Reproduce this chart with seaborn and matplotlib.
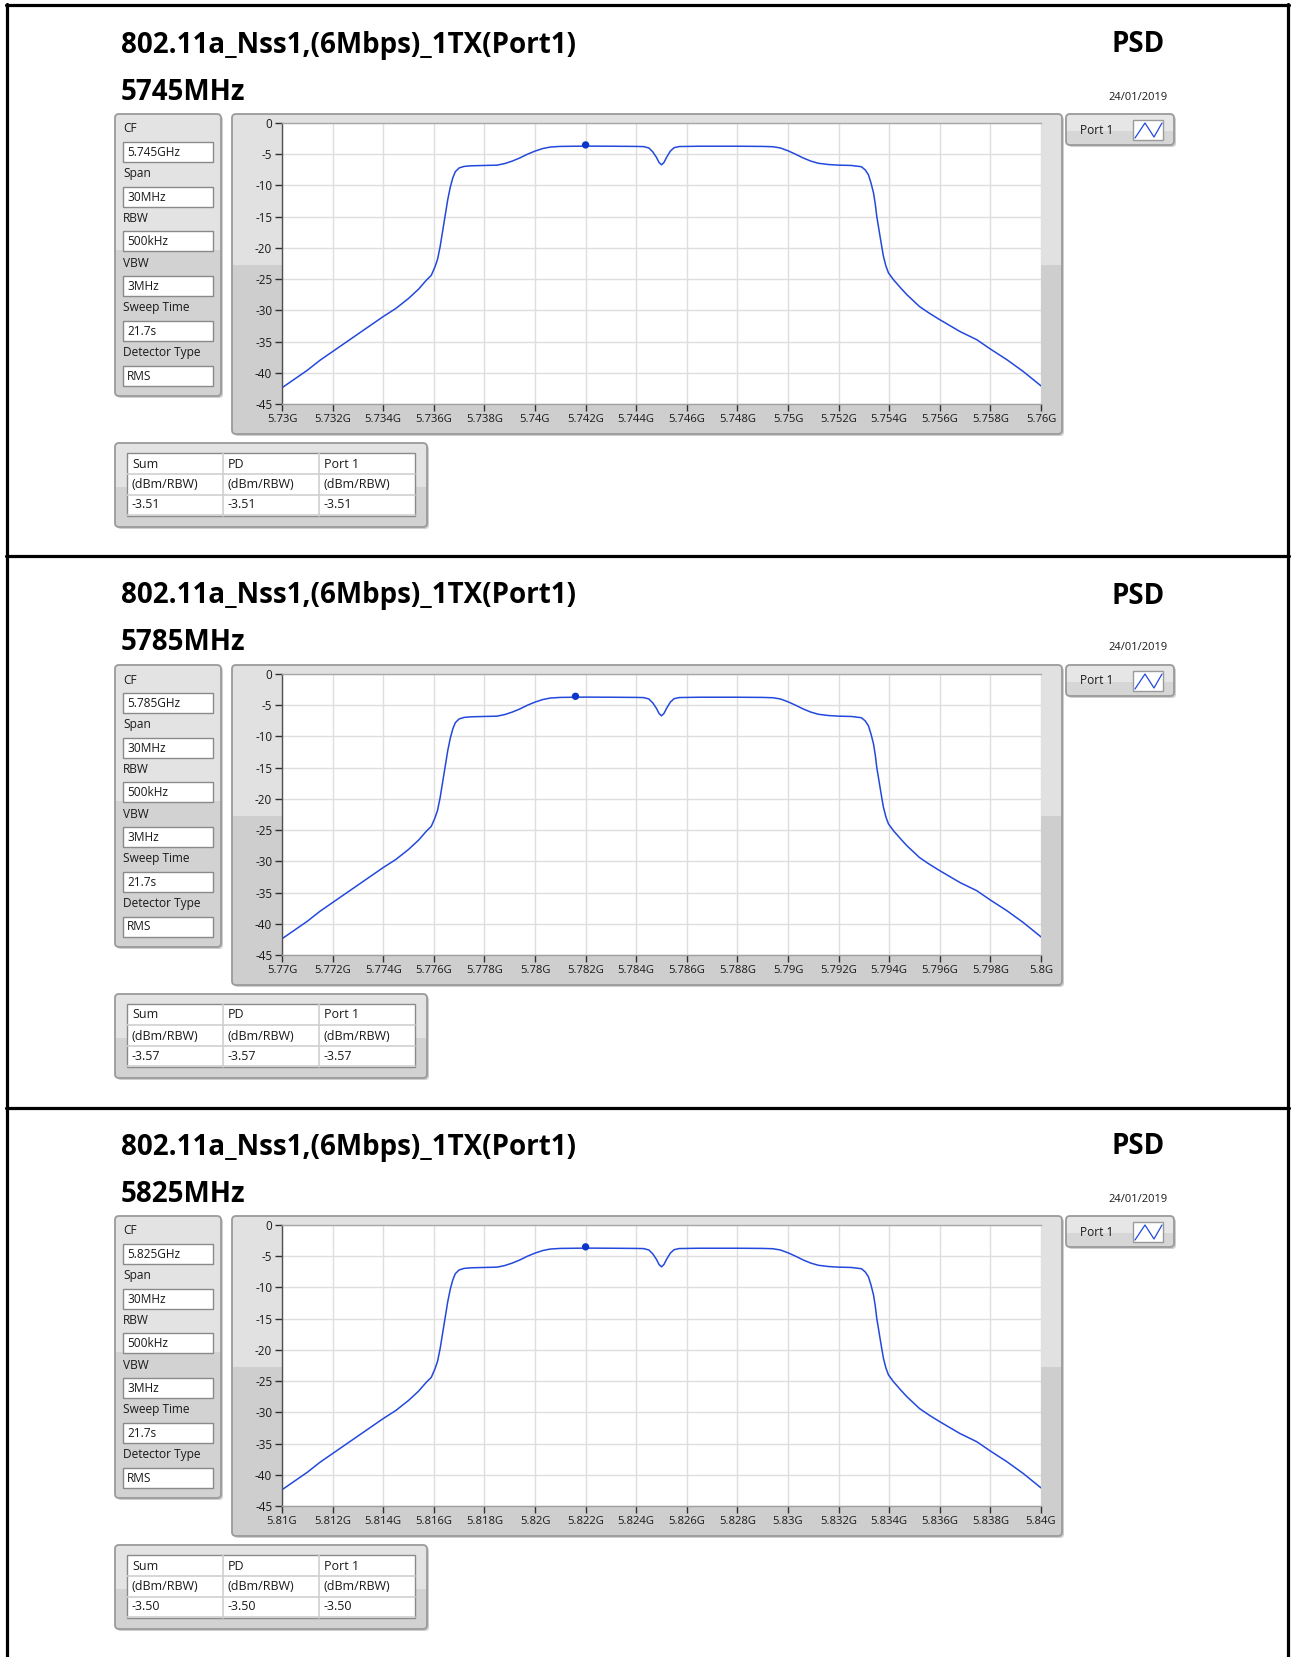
import matplotlib
matplotlib.use('Agg')
import matplotlib.pyplot as plt
from matplotlib.patches import FancyBboxPatch, Rectangle
import seaborn as sns

sns.set_theme(style='white')
plt.rcParams['font.family'] = ['Open Sans', 'DejaVu Sans']
plt.rcParams['axes.unicode_minus'] = False

W, H = 1292, 1657

# --- data ---
test_name = '802.11a_Nss1,(6Mbps)_1TX(Port1)'
test_date = '24/01/2019'
centre_mhz = [5745, 5785, 5825]
cf_text = ['5.745GHz', '5.785GHz', '5.825GHz']
param_names = ['CF', 'Span', 'RBW', 'VBW', 'Sweep Time', 'Detector Type']
span_text = '30MHz'
rbw_text = '500kHz'
vbw_text = '3MHz'
sweep_text = '21.7s'
detector_text = 'RMS'
peak_mhz = [5742.0, 5781.6, 5822.0]
peak_db = [-3.51, -3.57, -3.50]
table_head = ['Sum', 'PD', 'Port 1']
table_unit = '(dBm/RBW)'
table_value = ['-3.51', '-3.57', '-3.50']

# spectrum shape, offset from CF (MHz) vs level (dBm/RBW)
offset_mhz = [-15.0, -14.5, -14.0, -13.5, -13.0, -12.5, -12.0, -11.5, -11.0, -10.5,
              -10.0, -9.6, -9.3, -9.1, -8.95, -8.85, -8.75, -8.65, -8.55, -8.45,
              -8.35, -8.25, -8.15, -8.0, -7.8, -7.5, -7.0, -6.5, -6.2, -5.9,
              -5.6, -5.3, -5.0, -4.7, -4.4, -4.0, -3.0, -2.0, -1.0, -0.7,
              -0.5, -0.35, -0.2, -0.1, 0.0, 0.1, 0.2, 0.35, 0.5, 0.7,
              1.5, 3.0, 4.0,
              4.4, 4.7, 5.0, 5.3, 5.6, 5.9, 6.2, 6.6, 7.0, 7.5,
              7.9, 8.05, 8.18, 8.28, 8.38, 8.45, 8.51, 8.58, 8.64, 8.71,
              8.77, 8.87, 8.97, 9.17, 9.45, 9.7, 10.2, 10.6, 11.0, 11.8,
              12.46, 13.0, 13.65, 14.3, 15.0]
level_db = [-42.4, -41.0, -39.6, -38.0, -36.6, -35.2, -33.8, -32.4, -31.0, -29.7,
            -28.1, -26.6, -25.2, -24.4, -23.0, -21.8, -19.8, -17.3, -14.8, -12.3,
            -10.3, -8.8, -7.8, -7.2, -6.95, -6.85, -6.8, -6.75, -6.5, -6.1,
            -5.6, -5.0, -4.5, -4.1, -3.85, -3.75, -3.7, -3.72, -3.75, -3.78,
            -4.0, -4.6, -5.5, -6.3, -6.7, -6.3, -5.5, -4.5, -3.95, -3.77,
            -3.72, -3.72, -3.75,
            -3.8, -4.0, -4.45, -5.0, -5.6, -6.1, -6.45, -6.65, -6.75, -6.8,
            -7.0, -7.5, -8.3, -9.6, -11.2, -13.0, -15.0, -16.7, -18.2, -19.9,
            -21.3, -22.9, -24.0, -25.1, -26.4, -27.5, -29.4, -30.5, -31.5, -33.4,
            -34.7, -36.2, -37.9, -39.8, -42.1]

line_col = '#2349dc'
frame_edge = '#9a9a9a'
PITCH = 551

fig = plt.figure(figsize=(W / 100, H / 100), dpi=100)
fig.patch.set_facecolor('white')
bg = fig.add_axes([0, 0, 1, 1])
bg.set_xlim(0, W)
bg.set_ylim(H, 0)
bg.axis('off')


def rbox(x0, y0, x1, y1, **kw):
    return FancyBboxPatch((x0, y0), x1 - x0, y1 - y0,
                          boxstyle='round,pad=0,rounding_size=4', **kw)


def frame(x0, y0, x1, y1, split, top='#e3e3e3', low='#d2d2d2'):
    bg.add_patch(rbox(x0 + 2, y0 + 2, x1 + 2, y1 + 2, fc='#cfcfcf', ec='none', zorder=1))
    box = rbox(x0, y0, x1, y1, fc=top, ec='none', zorder=2)
    bg.add_patch(box)
    lower = Rectangle((x0, split), x1 - x0, y1 - split, fc=low, ec='none', zorder=2.1)
    bg.add_patch(lower)
    lower.set_clip_path(box)
    bg.add_patch(rbox(x0, y0, x1, y1, fc='none', ec=frame_edge, lw=1.3, zorder=2.2))


def small(x, y, s, size=8.6):
    bg.text(x, y, s, fontsize=size, color='#1a1a1a', va='center', zorder=5)


# page borders
bg.plot([7, 7], [4, H], color='black', lw=2.3, zorder=6)
bg.plot([1288, 1288], [4, H], color='black', lw=2.3, zorder=6)
for yb in [5, 556, 1108]:
    bg.plot([6, 1289], [yb, yb], color='black', lw=2.3, zorder=6)

for i, cf in enumerate(centre_mhz):
    dy = PITCH * i

    # headings
    bg.text(121, 45 + dy, test_name, fontsize=20, fontweight='bold', va='center', color='black')
    bg.text(121, 92 + dy, f'{cf}MHz', fontsize=20, fontweight='bold', va='center', color='black')
    bg.text(1165, 45 + dy, 'PSD', fontsize=20, fontweight='bold', va='center', ha='right', color='black')
    bg.text(1138, 97 + dy, test_date, fontsize=8, va='center', ha='center', color='#1a1a1a')

    # settings panel
    frame(115, 114 + dy, 221, 396 + dy, 250 + dy)
    values = [cf_text[i], span_text, rbw_text, vbw_text, sweep_text, detector_text]
    for k, (name, val) in enumerate(zip(param_names, values)):
        yl = 129 + 44.7 * k + dy
        small(123, yl, name)
        yt = yl + 13
        bg.add_patch(Rectangle((123, yt), 90, 20, fc='white', ec='#8a8a8a', lw=1, zorder=3))
        small(127, yt + 10.5, val)

    # graph frame
    frame(232, 114 + dy, 1062, 434 + dy, 265 + dy, top='#e1e1e1', low='#cecece')

    # legend
    frame(1066, 114 + dy, 1174, 145 + dy, 131 + dy, top='#e6e6e6', low='#d6d6d6')
    small(1080, 130 + dy, 'Port 1')
    bg.add_patch(Rectangle((1133, 120 + dy), 30, 20, fc='white', ec='#9a9a9a', lw=1, zorder=3))
    bg.plot([1135, 1145, 1154, 1162], [138 + dy, 123 + dy, 137 + dy, 123 + dy],
            color=line_col, lw=0.9, zorder=4)

    # results table
    frame(115, 443 + dy, 427, 527 + dy, 487 + dy)
    bg.add_patch(Rectangle((127, 453 + dy), 288, 63, fc='white', ec='#8a8a8a', lw=1, zorder=3))
    for yr in [474, 495, 515]:
        bg.plot([127, 415], [yr + dy, yr + dy], color='#cfcfcf', lw=1.2, zorder=4)
    for xc in [223, 319]:
        bg.plot([xc, xc], [453 + dy, 516 + dy], color='#cfcfcf', lw=1.2, zorder=4)
    for c, xc in enumerate([127, 223, 319]):
        small(xc + 5, 464 + dy, table_head[c], size=9)
        small(xc + 5, 485 + dy, table_unit, size=9)
        small(xc + 5, 505 + dy, table_value[i], size=9)

    # spectrum plot
    ax = fig.add_axes([282 / W, 1 - (404 + dy) / H, (1041 - 282) / W, 281 / H])
    ax.set_facecolor('white')
    freq_ghz = [(cf + o) / 1000 for o in offset_mhz]
    sns.lineplot(x=freq_ghz, y=level_db, ax=ax, color=line_col, linewidth=1.1, sort=False)
    sns.scatterplot(x=[peak_mhz[i] / 1000], y=[peak_db[i]], ax=ax, color='#0b36c9',
                    s=28, edgecolor='none', zorder=5)
    ax.set_xlim((cf - 15) / 1000, (cf + 15) / 1000)
    ax.set_ylim(-45, 0)
    xt = [(cf + o) / 1000 for o in range(-15, 16, 2)]
    ax.set_xticks(xt)
    ax.set_xticklabels([f'{round(v, 3):g}G' for v in xt])
    yt = list(range(0, -46, -5))
    ax.set_yticks(yt)
    ax.set_yticklabels([str(v) for v in yt])
    ax.grid(True, color='#dedede', linewidth=1)
    ax.tick_params(axis='x', labelsize=8.1)
    ax.tick_params(axis='y', labelsize=8.4)
    ax.tick_params(axis='both', direction='out', length=5, width=1, color='#303030',
                   labelcolor='#1a1a1a', pad=2, bottom=True, left=True)
    ax.spines['right'].set_visible(False)
    ax.spines['left'].set_color('#505050')
    ax.spines['top'].set_color('#a8a8a8')
    ax.spines['bottom'].set_color('#a0a0a0')
    for sp in ax.spines.values():
        sp.set_linewidth(1)
    ax.set_xlabel('')
    ax.set_ylabel('')

fig.savefig('out.png', dpi=100)
